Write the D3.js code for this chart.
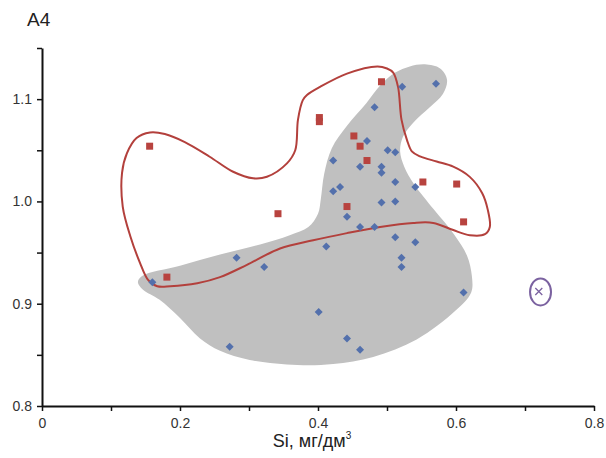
<!DOCTYPE html>
<html lang="ru">
<head>
    <meta charset="UTF-8">
    <title>A4 — Si</title>
    <script src="https://d3js.org/d3.v7.min.js"></script>
    <style>
        body { margin: 0; background: #fff; font-family: "Liberation Sans", Arial, sans-serif; }
        svg { display: block; }
        .tick text { fill: #333; font-size: 14px; font-family: "Liberation Sans", Arial, sans-serif; }
        .domain, .tick line { stroke: #111; }
    </style>
</head>
<body>
<div id="chart"></div>
<script>
    // Blue diamonds (x = Si, y = A4)
    const blueX = [0.571, 0.522, 0.482, 0.471, 0.501, 0.512, 0.422, 0.461, 0.492, 0.492, 0.512,
                   0.541, 0.432, 0.422, 0.492, 0.512, 0.442, 0.461, 0.482, 0.512, 0.541, 0.412,
                   0.521, 0.521, 0.282, 0.322, 0.160, 0.611, 0.401, 0.442, 0.461, 0.272];
    const blueY = [1.115, 1.112, 1.092, 1.059, 1.050, 1.048, 1.040, 1.034, 1.034, 1.028, 1.019,
                   1.014, 1.014, 1.010, 0.999, 1.000, 0.985, 0.975, 0.975, 0.965, 0.960, 0.956,
                   0.945, 0.936, 0.945, 0.936, 0.921, 0.911, 0.892, 0.866, 0.855, 0.858];

    // Red squares
    const redX = [0.492, 0.402, 0.402, 0.452, 0.461, 0.471, 0.552, 0.601, 0.442, 0.611, 0.156, 0.342, 0.181];
    const redY = [1.117, 1.082, 1.078, 1.064, 1.054, 1.040, 1.019, 1.017, 0.995, 0.980, 1.054, 0.988, 0.926];

    // Single outlier (cross)
    const crossX = [0.720];
    const crossY = [0.912];

    // Gray field outline (data units)
    const grayOutline = [
        [0.139, 0.921], [0.145, 0.927], [0.200, 0.937], [0.258, 0.948], [0.316, 0.958],
        [0.359, 0.967], [0.386, 0.975], [0.400, 0.988], [0.404, 1.002], [0.409, 1.027],
        [0.420, 1.052], [0.442, 1.074], [0.470, 1.096], [0.491, 1.114], [0.512, 1.126],
        [0.533, 1.132], [0.555, 1.134], [0.577, 1.130], [0.587, 1.119], [0.581, 1.105],
        [0.562, 1.092], [0.538, 1.077], [0.523, 1.063], [0.519, 1.049], [0.525, 1.034],
        [0.539, 1.017], [0.568, 0.992], [0.597, 0.968], [0.616, 0.947], [0.623, 0.927],
        [0.622, 0.911], [0.599, 0.893], [0.543, 0.865], [0.480, 0.848], [0.422, 0.841],
        [0.370, 0.840], [0.301, 0.845], [0.258, 0.854], [0.229, 0.866], [0.200, 0.886],
        [0.170, 0.904], [0.146, 0.914]
    ];

    // Red field outline (data units)
    const redOutline = [
        [0.1565, 1.0674], [0.178, 1.0659], [0.207, 1.058], [0.243, 1.0437], [0.277, 1.029],
        [0.306, 1.0226], [0.326, 1.0241], [0.355, 1.0372], [0.367, 1.050], [0.371, 1.080],
        [0.378, 1.099], [0.384, 1.104], [0.403, 1.112], [0.442, 1.125], [0.486, 1.132],
        [0.500, 1.130], [0.509, 1.126], [0.516, 1.112], [0.521, 1.080], [0.529, 1.060],
        [0.536, 1.049], [0.548, 1.044], [0.572, 1.039], [0.596, 1.034], [0.620, 1.024],
        [0.638, 1.008], [0.646, 0.992], [0.649, 0.975], [0.642, 0.968], [0.620, 0.967],
        [0.596, 0.972], [0.567, 0.979], [0.538, 0.979], [0.490, 0.975], [0.442, 0.969],
        [0.393, 0.962], [0.345, 0.954], [0.297, 0.938], [0.258, 0.926], [0.225, 0.920],
        [0.186, 0.917], [0.167, 0.917], [0.154, 0.923], [0.142, 0.940], [0.128, 0.966],
        [0.117, 0.995], [0.116, 1.028], [0.123, 1.047], [0.137, 1.062]
    ];

    // Purple ring around the outlier: centre and radii in data units
    const ringCenter = [0.7225, 0.9115];
    const ringRadius = [0.0152, 0.0132];

    const xTicks = [0, 0.1, 0.2, 0.3, 0.4, 0.5, 0.6, 0.7, 0.8];
    const xTickLabels = ["0", "", "0.2", "", "0.4", "", "0.6", "", "0.8"];
    const yTicks = [0.8, 0.85, 0.9, 0.95, 1.0, 1.05, 1.1, 1.15];
    const yTickLabels = ["0.8", "", "0.9", "", "1.0", "", "1.1", ""];

    const width = 606, height = 458;
    const margin = {top: 48, right: 12, bottom: 52, left: 42};

    const svg = d3.select("#chart").append("svg")
        .attr("width", width)
        .attr("height", height);

    const x = d3.scaleLinear().domain([0, 0.8]).range([margin.left, width - margin.right]);
    const y = d3.scaleLinear().domain([0.8, 1.15]).range([height - margin.bottom, margin.top]);

    const line = d3.line()
        .x(d => x(d[0]))
        .y(d => y(d[1]))
        .curve(d3.curveCatmullRomClosed.alpha(0.5));

    // Gray field
    svg.append("path")
        .attr("d", line(grayOutline))
        .attr("fill", "#c0c0c0")
        .attr("stroke", "none");

    // Red outline
    svg.append("path")
        .attr("d", line(redOutline))
        .attr("fill", "none")
        .attr("stroke", "#b3403c")
        .attr("stroke-width", 2);

    // Blue diamonds
    const blue = blueX.map((v, i) => [v, blueY[i]]);
    svg.append("g").selectAll("path")
        .data(blue)
        .join("path")
        .attr("transform", d => `translate(${x(d[0])},${y(d[1])})`)
        .attr("d", "M0,-4L4,0L0,4L-4,0Z")
        .attr("fill", "#5370ac");

    // Red squares
    const red = redX.map((v, i) => [v, redY[i]]);
    svg.append("g").selectAll("rect")
        .data(red)
        .join("rect")
        .attr("x", d => x(d[0]) - 3.5)
        .attr("y", d => y(d[1]) - 3.5)
        .attr("width", 7)
        .attr("height", 7)
        .attr("fill", "#b8433f");

    // Outlier cross + ring
    const cross = crossX.map((v, i) => [v, crossY[i]]);
    svg.append("g").selectAll("path")
        .data(cross)
        .join("path")
        .attr("transform", d => `translate(${x(d[0])},${y(d[1])})`)
        .attr("d", "M-3.5,-3.5L3.5,3.5M-3.5,3.5L3.5,-3.5")
        .attr("stroke", "#7b62a0")
        .attr("stroke-width", 1.3);

    svg.append("ellipse")
        .attr("cx", x(ringCenter[0]))
        .attr("cy", y(ringCenter[1]))
        .attr("rx", x(ringCenter[0] + ringRadius[0]) - x(ringCenter[0]))
        .attr("ry", y(ringCenter[1]) - y(ringCenter[1] + ringRadius[1]))
        .attr("fill", "none")
        .attr("stroke", "#7b62a0")
        .attr("stroke-width", 2);

    // Axes
    const xAxis = svg.append("g")
        .attr("transform", `translate(0,${height - margin.bottom})`)
        .call(d3.axisBottom(x).tickValues(xTicks).tickSize(5).tickSizeOuter(0)
            .tickFormat((d, i) => xTickLabels[i]));
    xAxis.selectAll("text").attr("y", 9).attr("dy", "0.95em");

    const yAxis = svg.append("g")
        .attr("transform", `translate(${margin.left},0)`)
        .call(d3.axisLeft(y).tickValues(yTicks).tickSize(5).tickSizeOuter(0)
            .tickFormat((d, i) => yTickLabels[i]));
    yAxis.selectAll("text").attr("x", -10);

    svg.selectAll(".domain").attr("stroke-width", 2);
    svg.selectAll(".tick line").attr("stroke-width", 1.5);

    // Axis titles
    svg.append("text")
        .attr("x", 27)
        .attr("y", 26)
        .attr("font-size", 19)
        .attr("fill", "#222")
        .text("A4");

    const xt = svg.append("text")
        .attr("x", 312)
        .attr("y", 447)
        .attr("text-anchor", "middle")
        .attr("font-size", 18)
        .attr("fill", "#222");
    xt.append("tspan").text("Si, мг/дм");
    xt.append("tspan").attr("font-size", 10).attr("dy", -8).text("3");
</script>
</body>
</html>
